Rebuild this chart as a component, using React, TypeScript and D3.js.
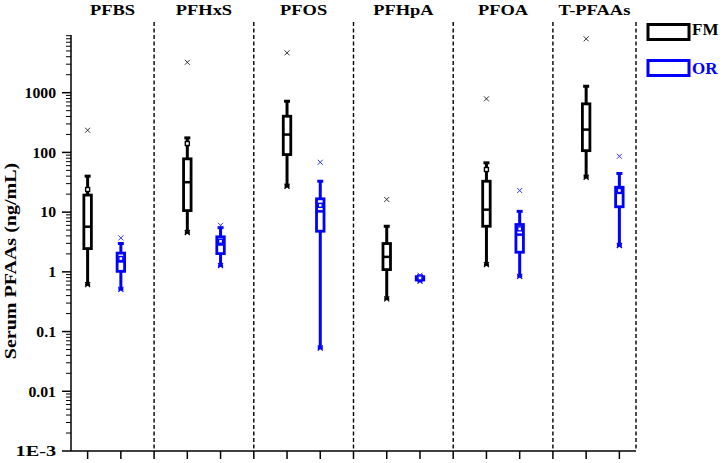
import React from "react";
import * as d3 from "d3";

const categories = ["PFBS", "PFHxS", "PFOS", "PFHpA", "PFOA", "T-PFAAs"];
const groups = ["FM", "OR"];
const groupColors = ["#000000", "#0000ff"];
const outlierColors = ["#333333", "#3333ff"];

// FM statistics (ng/mL)
const fmMin = [0.61, 4.55, 27.1, 0.353, 1.32, 38.4];
const fmQ1 = [2.45, 10.6, 92, 1.09, 5.8, 107];
const fmMedian = [5.7, 31.7, 199, 1.78, 11.0, 241];
const fmQ3 = [19.3, 78, 403, 2.98, 32.9, 650];
const fmMax = [40, 175, 719, 5.8, 66.9, 1282];
const fmMean = [23.9, 141, 199, 1.78, 51.7, 241];
const fmOutlier = [235, 3230, 4650, 16.3, 789, 7980];

// OR statistics (ng/mL)
const orMin = [0.51, 1.27, 0.053, 0.7, 0.84, 2.76];
const orQ1 = [1.02, 2.02, 4.79, 0.73, 2.13, 12.3];
const orMedian = [1.49, 2.87, 10.3, 0.78, 4.2, 21];
const orQ3 = [2.06, 3.86, 16.7, 0.83, 6.2, 26.1];
const orMax = [2.98, 5.5, 32.9, 0.86, 10.3, 44.3];
const orMean = [1.67, 3.25, 13, 0.79, 5.25, 23];
const orOutlier = [3.7, 6.0, 68.4, 0.88, 23, 86.2];

const yTickValues = [1e-3, 0.01, 0.1, 1, 10, 100, 1000];
const yTickLabels = ["1E-3", "0.01", "0.1", "1", "10", "100", "1000"];
const yTitle = "Serum PFAAs (ng/mL)";

const W = 726;
const H = 463;
const FONT = "'Liberation Serif', 'Times New Roman', serif";

export default function App() {
  const x = d3.scaleLinear().domain([0.5, 17.5]).range([71, 636]);
  const y = d3.scaleLog().domain([1e-3, Math.pow(10, 3.966)]).range([451, 35]);

  const stats = [
    { min: fmMin, q1: fmQ1, med: fmMedian, q3: fmQ3, max: fmMax, mean: fmMean, out: fmOutlier },
    { min: orMin, q1: orQ1, med: orMedian, q3: orQ3, max: orMax, mean: orMean, out: orOutlier },
  ];

  const xTicks = d3.range(1, 18);
  const separators = [3, 6, 9, 12, 15, 17.5];
  const bounds = [0.5, 3, 6, 9, 12, 15, 17.5];

  const minor: number[] = [];
  for (let e = -3; e <= 3; e++) {
    for (let m = 2; m <= 9; m++) {
      const v = m * Math.pow(10, e);
      if (v <= y.domain()[1]) minor.push(v);
    }
  }

  const boxW = 7.5;
  const cross = (cx: number, cy: number, s: number, color: string, sw: number, key: string) => (
    <g key={key} stroke={color} strokeWidth={sw}>
      <line x1={cx - s} y1={cy - s} x2={cx + s} y2={cy + s} />
      <line x1={cx - s} y1={cy + s} x2={cx + s} y2={cy - s} />
    </g>
  );

  return (
    <svg width={W} height={H} style={{ position: "absolute", left: 0, top: 0, background: "#fff" }} fontFamily={FONT}>
      {separators.map((s) => (
        <line key={"sep" + s} x1={x(s)} x2={x(s)} y1={22} y2={451} stroke="#000" strokeWidth={1.4} strokeDasharray="4,2.5" />
      ))}
      {categories.map((c, i) => {
        const cx = (x(bounds[i]) + x(bounds[i + 1])) / 2;
        return (
          <g key={"t" + c} transform={`translate(${cx},15) scale(1.23,1)`}>
            <text textAnchor="middle" fontSize={15} fontWeight="bold" fill="#000">{c}</text>
          </g>
        );
      })}
      <line x1={71} x2={71} y1={35} y2={451} stroke="#000" strokeWidth={1.5} />
      {minor.map((v) => (
        <line key={"mn" + v} x1={66} x2={71} y1={y(v)} y2={y(v)} stroke="#000" strokeWidth={1} />
      ))}
      {yTickValues.map((v, i) => (
        <g key={"yt" + v}>
          <line x1={62} x2={71} y1={y(v)} y2={y(v)} stroke="#000" strokeWidth={1.5} />
          <g transform={`translate(56,${y(v)}) scale(${yTickLabels[i] === "1E-3" ? 1.35 : 1.05},1)`}>
            <text dy="0.35em" textAnchor="end" fontSize={15} fontWeight="bold" fill="#000">
              {yTickLabels[i]}
            </text>
          </g>
        </g>
      ))}
      <g transform={`translate(16,261) rotate(-90) scale(1.25,1)`}>
        <text textAnchor="middle" fontSize={16} fontWeight="bold" fill="#000">{yTitle}</text>
      </g>
      <line x1={71} x2={636} y1={451} y2={451} stroke="#000" strokeWidth={1.5} />
      {xTicks.map((t) => (
        <line key={"xt" + t} x1={x(t)} x2={x(t)} y1={451} y2={459} stroke="#000" strokeWidth={1.5} />
      ))}
      {categories.map((c, i) =>
        groups.map((g, gi) => {
          const s = stats[gi];
          const cx = x(1 + 3 * i + gi);
          const col = groupColors[gi];
          const yq1 = y(s.q1[i]);
          const yq3 = y(s.q3[i]);
          const ym = y(s.mean[i]);
          return (
            <g key={c + g}>
              <line x1={cx} x2={cx} y1={y(s.max[i])} y2={yq3} stroke={col} strokeWidth={3} />
              <line x1={cx} x2={cx} y1={yq1} y2={y(s.min[i])} stroke={col} strokeWidth={3} />
              <line x1={cx - 3} x2={cx + 3} y1={y(s.max[i])} y2={y(s.max[i])} stroke={col} strokeWidth={3} />
              <line x1={cx - 2.5} x2={cx + 2.5} y1={y(s.min[i])} y2={y(s.min[i])} stroke={col} strokeWidth={2.5} />
              {cross(cx, y(s.min[i]), 2.5, col, 1.2, "mn")}
              <rect x={cx - boxW / 2} y={yq3} width={boxW} height={Math.max(yq1 - yq3, 0.5)} fill="#fff" stroke={col} strokeWidth={2.8} />
              <line x1={cx - boxW / 2} x2={cx + boxW / 2} y1={y(s.med[i])} y2={y(s.med[i])} stroke={col} strokeWidth={2.5} />
              {s.mean[i] !== s.med[i] && (
                <rect x={cx - 2} y={ym - 2} width={4} height={4} fill="#fff" stroke={col} strokeWidth={1.4} />
              )}
              {cross(cx, y(s.out[i]), 2.5, outlierColors[gi], 1, "out")}
            </g>
          );
        })
      )}
      {groups.map((g, gi) => (
        <g key={"lg" + g}>
          <rect x={648} y={24.5 + gi * 36} width={41} height={15} fill="#fff" stroke={groupColors[gi]} strokeWidth={3} />
          <text x={692} y={35 + gi * 38.5} fontSize={17} fontWeight="bold" fill={groupColors[gi]}>{g}</text>
        </g>
      ))}
    </svg>
  );
}
